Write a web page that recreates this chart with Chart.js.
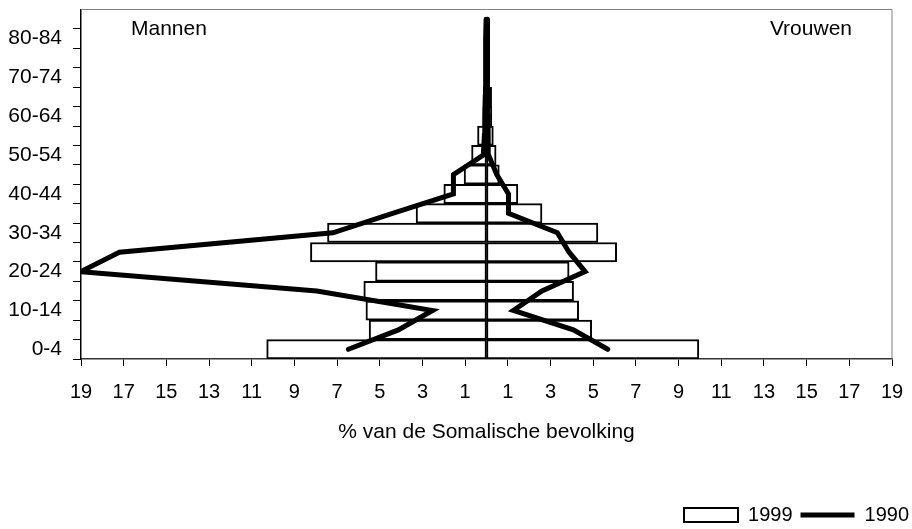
<!DOCTYPE html>
<html>
<head>
<meta charset="utf-8">
<script src="https://cdn.jsdelivr.net/npm/chart.js@4.4.1/dist/chart.umd.min.js"></script>
<style>
html, body { margin: 0; padding: 0; background: #fff; }
#wrap { width: 912px; height: 529px; }
</style>
</head>
<body>
<div id="wrap"><canvas id="pyramid"></canvas></div>
<script>
// age groups, youngest first (the top one has no label in the original)
var ageGroups = ['0-4', '5-9', '10-14', '15-19', '20-24', '25-29', '30-34', '35-39', '40-44',
                 '45-49', '50-54', '55-59', '60-64', '65-69', '70-74', '75-79', '80-84', '85+'];

// % of Somali population, men drawn as negative values
var men1999   = [-10.3, -5.5, -5.65, -5.75, -5.2, -8.25, -7.45, -3.3, -2.0,
                 -1.05, -0.7, -0.42, -0.17, -0.15, -0.08, -0.06, -0.04, null];
var women1999 = [9.95, 4.93, 4.32, 4.08, 3.87, 6.1, 5.22, 2.6, 1.47,
                 0.6, 0.45, 0.32, 0.25, 0.24, 0.1, 0.08, 0.05, null];
var men1990   = [-6.47, -4.13, -2.53, -7.95, -19, -17.2, -7.2, -4.4, -1.55,
                 -1.55, -0.15, -0.1, -0.08, -0.06, -0.05, -0.04, -0.03, -0.02];
var women1990 = [5.68, 4.07, 1.26, 2.6, 4.62, 3.87, 3.32, 1.03, 1.03,
                 0.48, 0.1, 0.08, 0.07, 0.06, 0.05, 0.05, 0.04, 0.03];

var xTickStep = 2;
var xMin = -19, xMax = 19;

var fontFamily = '"Liberation Sans", Arial, sans-serif';

// gray frame on top/right plus the Mannen / Vrouwen captions
var framePlugin = {
    id: 'frame',
    beforeDatasetsDraw: function(chart) {
        var a = chart.chartArea, ctx = chart.ctx;
        ctx.save();
        ctx.strokeStyle = '#808080';
        ctx.lineWidth = 1;
        ctx.beginPath();
        ctx.moveTo(a.left, a.top);
        ctx.lineTo(a.right, a.top);
        ctx.lineTo(a.right, a.bottom);
        ctx.stroke();
        ctx.font = '21px ' + fontFamily;
        ctx.fillStyle = '#000';
        ctx.textBaseline = 'middle';
        ctx.textAlign = 'left';
        ctx.fillText('Mannen', a.left + 50, a.top + 20);
        ctx.textAlign = 'right';
        ctx.fillText('Vrouwen', a.right - 40, a.top + 20);
        ctx.restore();
    }
};

function lineSet(values) {
    return {
        type: 'line',
        indexAxis: 'y',
        label: '1990',
        data: values,
        borderColor: '#000',
        borderWidth: 5,
        borderCapStyle: 'round',
        borderJoinStyle: 'miter',
        pointRadius: 0,
        tension: 0,
        fill: false,
        order: 0
    };
}

function barSet(values) {
    return {
        type: 'bar',
        indexAxis: 'y',
        label: '1999',
        data: values,
        backgroundColor: '#fff',
        borderColor: '#000',
        borderWidth: 2,
        borderSkipped: false,
        grouped: false,
        barPercentage: 1,
        categoryPercentage: 1,
        order: 1
    };
}

var chart = new Chart(document.getElementById('pyramid'), {
    type: 'bar',
    data: {
        labels: ageGroups,
        datasets: [lineSet(men1990), lineSet(women1990), barSet(men1999), barSet(women1999)]
    },
    options: {
        indexAxis: 'y',
        responsive: true,
        maintainAspectRatio: false,
        animation: false,
        layout: { padding: { top: 9.5, right: -5, bottom: -6, left: 0 } },
        plugins: {
            tooltip: { enabled: false },
            legend: {
                position: 'bottom',
                align: 'end',
                labels: {
                    usePointStyle: true,
                    pointStyleWidth: 54,
                    boxHeight: 14,
                    padding: 8,
                    color: '#000',
                    font: { size: 20, family: fontFamily },
                    generateLabels: function(chart) {
                        return [
                            { text: '1999', fillStyle: '#fff', strokeStyle: '#000', lineWidth: 2, pointStyle: 'rect', datasetIndex: 2, hidden: false },
                            { text: '1990', fillStyle: '#000', strokeStyle: '#000', lineWidth: 5, pointStyle: 'line', datasetIndex: 0, hidden: false }
                        ];
                    }
                }
            }
        },
        scales: {
            x: {
                type: 'linear',
                min: xMin,
                max: xMax,
                afterFit: function(scale) {
                    scale.height = 138;
                    scale.paddingLeft = 0;
                    scale.paddingRight = 0;
                },
                ticks: {
                    stepSize: xTickStep,
                    color: '#000',
                    padding: 14,
                    font: { size: 20, family: fontFamily },
                    callback: function(value) { return Math.abs(value); }
                },
                grid: { drawOnChartArea: false, drawTicks: true, tickLength: 7, color: '#000' },
                border: { color: '#333', width: 1.5 },
                title: {
                    display: true,
                    text: '% van de Somalische bevolking',
                    color: '#000',
                    font: { size: 21, family: fontFamily },
                    padding: { top: 0, bottom: 52 }
                }
            },
            y: {
                type: 'category',
                reverse: true,
                offset: true,
                afterFit: function(scale) {
                    scale.width = 81;
                    scale.paddingTop = 0;
                    scale.paddingBottom = 0;
                },
                ticks: {
                    autoSkip: false,
                    color: '#000',
                    padding: 11,
                    font: { size: 21, family: fontFamily },
                    callback: function(value, index) {
                        return index % 2 === 0 ? this.getLabelForValue(value) : '';
                    }
                },
                grid: {
                    offset: true,
                    drawOnChartArea: false,
                    drawTicks: true,
                    tickLength: 8,
                    // no tick mark on the very top edge
                    color: function(ctx) { return ctx.type === 'tick' ? '#000' : 'rgba(0,0,0,0)'; }
                },
                border: { color: '#000', width: 1.5 }
            },
            // empty right-hand axis, only reserves the margin right of the plot
            yRight: {
                type: 'category',
                position: 'right',
                afterFit: function(scale) {
                    scale.width = 25;
                    scale.paddingTop = 0;
                    scale.paddingBottom = 0;
                },
                ticks: { display: false },
                grid: { display: false },
                border: { display: false }
            }
        }
    },
    plugins: [framePlugin]
});
</script>
</body>
</html>
